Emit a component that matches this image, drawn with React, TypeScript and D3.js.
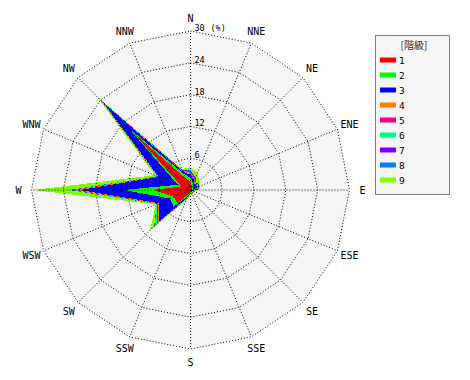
import React from "react";
import * as d3 from "d3";

const directions = ["N","NNE","NE","ENE","E","ESE","SE","SSE","S","SSW","SW","WSW","W","WNW","NW","NNW"];
const classLabels = ["1","2","3","4","5","6","7","8","9"];
const classColors = ["#ff0000","#00ff00","#0000ff","#ff8000","#ff0080","#00ff80","#8000ff","#0080ff","#80ff00"];
const ticks = [0, 6, 12, 18, 24, 30];

// per-class frequency (%) for each of the 16 directions (N clockwise)
const class1 = [1.5, 0.8, 0.5, 0.4, 0.3, 0.2, 0.2, 0.2, 0.3, 0.8, 3.6, 3.4, 7.0, 1.8, 15.2, 2.4];
const class2 = [0.8, 0.6, 0.3, 0.2, 0.2, 0.1, 0.1, 0.1, 0.2, 0.4, 0.9, 0.8, 5.6, 0.8, 1.3, 0.9];
const class3 = [0.6, 0.5, 0.3, 0.3, 0.2, 0.1, 0.1, 0.1, 0.2, 0.4, 4.0, 2.3, 8.2, 3.9, 6.5, 0.4];
const class4 = [0.1, 0.1, 0.1, 0.1, 0.0, 0.0, 0.0, 0.0, 0.0, 0.1, 0.3, 0.2, 0.6, 0.1, 0.3, 0.1];
const class5 = [0.1, 0.1, 0.1, 0.0, 0.0, 0.0, 0.0, 0.0, 0.0, 0.0, 0.2, 0.1, 0.4, 0.1, 0.2, 0.1];
const class6 = [0.2, 0.2, 0.1, 0.1, 0.1, 0.0, 0.0, 0.1, 0.0, 0.1, 0.5, 0.1, 0.6, 0.1, 0.4, 0.1];
const class7 = [0.3, 0.2, 0.1, 0.1, 0.1, 0.1, 0.0, 0.0, 0.0, 0.0, 0.1, 0.0, 0.2, 0.0, 0.1, 0.1];
const class8 = [0.1, 0.1, 0.1, 0.1, 0.1, 0.0, 0.0, 0.0, 0.0, 0.0, 0.1, 0.0, 0.3, 0.0, 0.2, 0.0];
const class9 = [0.6, 0.9, 0.7, 0.5, 0.2, 0.3, 0.3, 0.4, 0.5, 0.2, 1.1, 0.2, 6.7, 0.5, 0.7, 0.2];

const series = [class1, class2, class3, class4, class5, class6, class7, class8, class9];

const W = 470, H = 380;
const cx = 190.5, cy = 190;
const R = 159;

export default function App() {
  const r = d3.scaleLinear().domain([0, 30]).range([0, R]);
  const ang = d3.scaleLinear().domain([0, directions.length]).range([0, 2 * Math.PI]);

  // cumulative stacks
  const cum: number[][] = [];
  series.forEach((s, k) => {
    cum.push(s.map((v, i) => v + (k > 0 ? cum[k - 1][i] : 0)));
  });

  const radial = d3.lineRadial<number>()
    .angle((_, i) => ang(i))
    .radius((v) => r(v))
    .curve(d3.curveLinearClosed);

  const ringPath = (v: number) => radial(directions.map(() => v)) || "";
  const pt = (i: number, rad: number) => [cx + rad * Math.sin(ang(i)), cy - rad * Math.cos(ang(i))];

  const mono = "'DejaVu Sans Mono', monospace";

  return (
    <svg width={W} height={H} style={{ position: "absolute", left: 0, top: 0, background: "#fff" }}>
      <g transform={`translate(${cx},${cy})`}>
        <path d={ringPath(30)} fill="#f5f5f5" stroke="none" />
        {cum.slice().reverse().map((c, idx) => {
          const k = cum.length - 1 - idx;
          return <path key={k} d={radial(c) || ""} fill={classColors[k]} stroke="none" shapeRendering="crispEdges" />;
        })}
        {ticks.slice(1).map((t) => (
          <path key={t} d={ringPath(t)} fill="none" stroke="#000" strokeWidth={1} strokeDasharray="1,2" />
        ))}
      </g>
      {directions.map((d, i) => {
        const [x, y] = pt(i, R);
        return <line key={d} x1={cx} y1={cy} x2={x} y2={y} stroke="#000" strokeWidth={1} strokeDasharray="1,2" />;
      })}
      {directions.map((d, i) => {
        const [x, y] = pt(i, 172);
        return (
          <text key={d} x={x} y={y} textAnchor="middle" dominantBaseline="central" fontFamily={mono} fontSize={10} fill="#000">{d}</text>
        );
      })}
      {ticks.map((t) => (
        <text key={t} x={cx + 4} y={cy - r(t) - 3} dominantBaseline="central" fontFamily={mono} fontSize={8.5} fill="#000">{t}</text>
      ))}
      <text x={cx + 20} y={cy - r(30) - 3} dominantBaseline="central" fontFamily={mono} fontSize={8.5} fill="#000">(%)</text>
      <g>
        <rect x={375.5} y={35.5} width={74} height={159} fill="#f5f5f5" stroke="#000" strokeDasharray="1,1" />
        <text x={414} y={44} textAnchor="middle" dominantBaseline="central" fontFamily="'Noto Sans CJK JP', sans-serif" fontSize={10} fill="#333">[階級]</text>
        {classLabels.map((l, k) => (
          <g key={l}>
            <rect x={380} y={60 + k * 15 - 2.5} width={16} height={5} fill={classColors[k]} />
            <text x={399} y={60 + k * 15} dominantBaseline="central" fontFamily={mono} fontSize={9.5} fill="#000">{l}</text>
          </g>
        ))}
      </g>
    </svg>
  );
}
